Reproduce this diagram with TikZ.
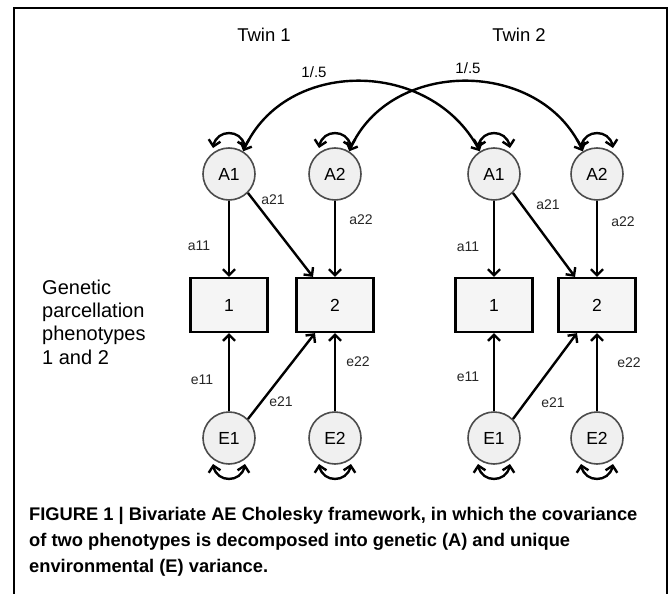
\documentclass[tikz,border=0pt]{standalone}
\usepackage{fontspec}
\setmainfont{Liberation Sans}
\usetikzlibrary{arrows.meta}
\newcommand\selfloopup[1]{\draw[cov] ([shift={(-16,-26)}]#1.center) .. controls ([shift={(-12,-45)}]#1.center) and ([shift={(12,-45)}]#1.center) .. ([shift={(16,-26)}]#1.center);}
\newcommand\selfloopdown[1]{\draw[cov] ([shift={(-16,26)}]#1.center) .. controls ([shift={(-12,45)}]#1.center) and ([shift={(12,45)}]#1.center) .. ([shift={(16,26)}]#1.center);}
\begin{document}
\begin{tikzpicture}[x=1pt,y=-1pt,
 lat/.style={circle,draw=gray!60!black,fill=gray!12,line width=1.6pt,minimum size=52pt,inner sep=0pt,font=\fontsize{17.5}{19}\selectfont},
 obs/.style={rectangle,draw=black,fill=gray!8,line width=2.2pt,minimum width=77pt,minimum height=54pt,font=\fontsize{17.5}{19}\selectfont},
 pth/.style={line width=2.4pt,-{Straight Barb[length=6pt,width=12pt]}},
 cov/.style={line width=2.4pt,{Straight Barb[length=6pt,width=12pt]}-{Straight Barb[length=6pt,width=12pt]}},
 lbl/.style={font=\fontsize{14}{16}\selectfont,text=black!85},
 head/.style={font=\fontsize{18.5}{20}\selectfont},
]
\useasboundingbox (0,0) rectangle (669,594);
\draw[line width=1.2pt] (14,600) -- (14,8) -- (667,8) -- (667,600);

% Twin 1
\node[lat] (A1a) at (229,174) {A1};
\node[lat] (A2a) at (335,174) {A2};
\node[obs] (B1a) at (229,305) {1};
\node[obs] (B2a) at (335,305) {2};
\node[lat] (E1a) at (229,438) {E1};
\node[lat] (E2a) at (335,438) {E2};
% Twin 2
\node[lat] (A1b) at (494,174) {A1};
\node[lat] (A2b) at (597,174) {A2};
\node[obs] (B1b) at (494,305) {1};
\node[obs] (B2b) at (597,305) {2};
\node[lat] (E1b) at (494,438) {E1};
\node[lat] (E2b) at (597,438) {E2};

\node[head] (t1) at (264,35) {Twin 1};
\node[head] (t2) at (519,35) {Twin 2};

% paths twin 1
\draw[pth] (A1a) -- (B1a);
\draw[pth] (A1a.-45) -- ([xshift=-22pt]B2a.north);
\draw[pth] (A2a) -- (B2a);
\draw[pth] (E1a) -- (B1a);
\draw[pth] (E1a.45) -- ([xshift=-20pt]B2a.south);
\draw[pth] (E2a) -- (B2a);
% paths twin 2
\draw[pth] (A1b) -- (B1b);
\draw[pth] (A1b.-45) -- ([xshift=-22pt]B2b.north);
\draw[pth] (A2b) -- (B2b);
\draw[pth] (E1b) -- (B1b);
\draw[pth] (E1b.45) -- ([xshift=-20pt]B2b.south);
\draw[pth] (E2b) -- (B2b);

% self loops
\selfloopup{A1a}
\selfloopup{A2a}
\selfloopup{A1b}
\selfloopup{A2b}
\selfloopdown{E1a}
\selfloopdown{E2a}
\selfloopdown{E1b}
\selfloopdown{E2b}

% covariances
\draw[cov] (A1a.58) .. controls (285,58) and (430,58) .. (A1b.122);
\draw[cov] (A2a.58) .. controls (390,58) and (540,58) .. (A2b.122);
\node[font=\fontsize{15}{16}\selectfont] (r1) at (314,72) {1/.5};
\node[font=\fontsize{15}{16}\selectfont] (r2) at (468,68) {1/.5};

% labels
\node[lbl] (la11a) at (199,246) {a11};
\node[lbl] (la21a) at (273,200) {a21};
\node[lbl] (la22a) at (361,220) {a22};
\node[lbl] (le11a) at (202,380) {e11};
\node[lbl] (le21a) at (281,402) {e21};
\node[lbl] (le22a) at (358,362) {e22};
\node[lbl] (la11b) at (468,247) {a11};
\node[lbl] (la21b) at (548,205) {a21};
\node[lbl] (la22b) at (623,222) {a22};
\node[lbl] (le11b) at (468,377) {e11};
\node[lbl] (le21b) at (553,403) {e21};
\node[lbl] (le22b) at (629,363) {e22};

\node[anchor=west,align=left,inner sep=0pt,font=\fontsize{20}{23.3}\selectfont] (gen) at (42,322) {Genetic\\parcellation\\phenotypes\\1 and 2};

\node[anchor=west,align=left,inner sep=0pt,font=\fontsize{18.3}{26}\selectfont\bfseries] (cap) at (29,542) {FIGURE 1 | Bivariate AE Cholesky framework, in which the covariance\\of two phenotypes is decomposed into genetic (A) and unique\\environmental (E) variance.};
\end{tikzpicture}
\end{document}
